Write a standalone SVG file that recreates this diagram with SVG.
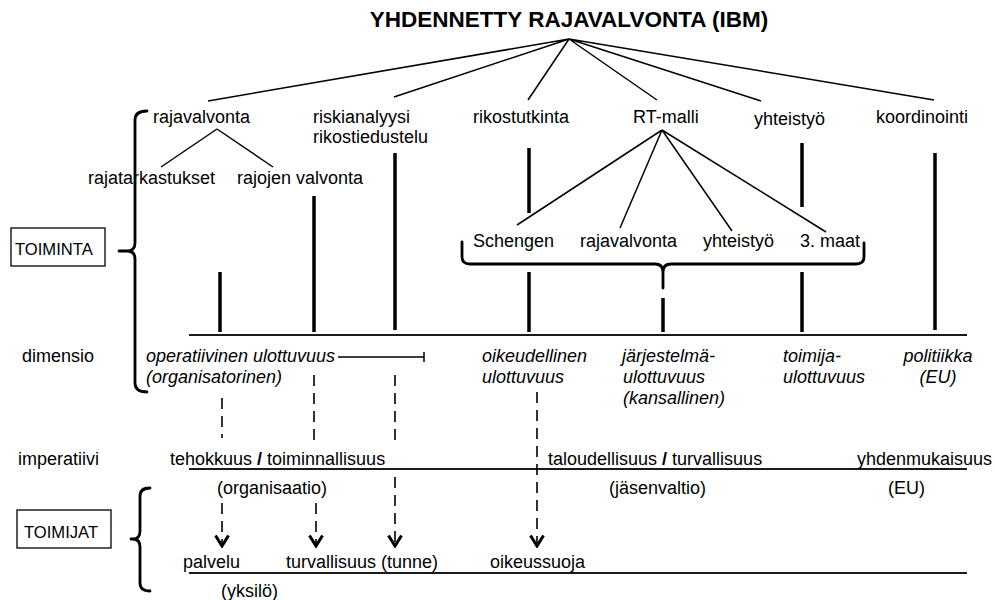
<svg xmlns="http://www.w3.org/2000/svg" width="995" height="600" viewBox="0 0 995 600">
  <style>
    text { font-family: "Liberation Sans", Arial, sans-serif; font-size: 18px; fill: #000; }
    .title { font-size: 22.5px; font-weight: bold; text-anchor: middle; }
    .it { font-style: italic; }
    .box-label { font-size: 16.6px; }
    .thin { stroke: #000; stroke-width: 1.5; fill: none; }
    .axis { stroke: #1a1a1a; stroke-width: 2; fill: none; }
    .thick { stroke: #000; stroke-width: 3.5; fill: none; }
    .brace { stroke: #000; stroke-width: 2.8; fill: none; stroke-linecap: round; stroke-linejoin: round; }
    .dash { stroke: #000; stroke-width: 1.6; fill: none; stroke-dasharray: 11 7; }
    .box { stroke: #000; stroke-width: 1.3; fill: #fff; }
  </style>
  <defs>
    <!-- open chevron arrowhead, drawn along +x so orient="auto" follows the line -->
    <marker id="chevron" viewBox="0 0 14 16" refX="12" refY="8" markerWidth="14" markerHeight="16" markerUnits="userSpaceOnUse" orient="auto">
      <path d="M1.5,1.5 L12,8 L1.5,14.5" fill="none" stroke="#000" stroke-width="3"/>
    </marker>
  </defs>

  <rect width="995" height="600" fill="#fff"/>

  <!-- root -->
  <g id="root">
    <text class="title" x="569" y="27">YHDENNETTY RAJAVALVONTA (IBM)</text>
  </g>

  <!-- connectors -->
  <g id="connectors">
    <!-- root branches -->
    <path class="thin" d="M569,39 L208,101 M569,39 L394,97 M569,39 L528,100 M569,39 L657,100 M569,39 L761,101 M569,39 L934,100"/>
    <!-- rajavalvonta split -->
    <path class="thin" d="M217,129 L161,167 M217,129 L273,167"/>
    <!-- RT-malli split -->
    <path class="thin" d="M662,130 L517,225 M662,130 L620,228 M662,130 L732,231 M662,130 L826,232"/>

    <!-- thick verticals down to the dimension axis -->
    <path class="thick" d="M220,272 V332 M314,196 V332 M395,153 V330 M529,148 V213 M529,272 V332 M663,298 V332 M802,143 V207 M802,272 V332 M935,153 V330"/>

    <!-- axes -->
    <path class="axis" d="M189,335 H967 M189,469 H967 M189,573 H967"/>

    <!-- operational dimension extent -->
    <path class="thin" d="M338,357 H424 M424,352 V362"/>

    <!-- dashed flows -->
    <path class="dash" d="M222,398 V438"/>
    <path class="dash" d="M222,503 V546" marker-end="url(#chevron)"/>
    <path class="dash" d="M314,375 V447"/>
    <path class="dash" d="M316,503 V546" marker-end="url(#chevron)"/>
    <path class="dash" d="M395,375 V447"/>
    <path class="dash" d="M395,477 V546" marker-end="url(#chevron)"/>
    <path class="dash" d="M537,392 V546" marker-end="url(#chevron)"/>

    <!-- braces -->
    <path class="brace" d="M147,111 Q135,111 135,120 L135,243 Q135,251 127,251 L119,251 M127,251 Q135,251 135,259 L135,383 Q135,392 147,392"/>
    <path class="brace" d="M150,488 Q140,488 140,496 L140,531 Q140,539 133,539 L131,539 M133,539 Q140,539 140,547 L140,583 Q140,591 150,591"/>
    <path class="brace" d="M462,242 L462,257 Q462,264 470,264 L655,264 Q663,264 663,272 L663,288 M663,272 Q663,264 671,264 L856,264 Q864,264 864,257 L864,243"/>
  </g>

  <!-- first-level activities -->
  <g id="n-rajavalvonta"><text x="153" y="123">rajavalvonta</text></g>
  <g id="n-riskianalyysi"><text x="313" y="123">riskianalyysi</text><text x="313" y="143">rikostiedustelu</text></g>
  <g id="n-rikostutkinta"><text x="473" y="123">rikostutkinta</text></g>
  <g id="n-rtmalli"><text x="633" y="123">RT-malli</text></g>
  <g id="n-yhteistyo"><text x="754" y="125">yhteistyö</text></g>
  <g id="n-koordinointi"><text x="876" y="123">koordinointi</text></g>

  <!-- second-level activities -->
  <g id="n-rajatarkastukset"><text x="88" y="184">rajatarkastukset</text></g>
  <g id="n-rajojen-valvonta"><text x="237" y="184">rajojen valvonta</text></g>
  <g id="n-schengen"><text x="473" y="247">Schengen</text></g>
  <g id="n-rt-rajavalvonta"><text x="580" y="247">rajavalvonta</text></g>
  <g id="n-rt-yhteistyo"><text x="703" y="247">yhteistyö</text></g>
  <g id="n-kolmannet-maat"><text x="800" y="247">3. maat</text></g>

  <!-- side labels -->
  <g id="n-toiminta">
    <rect class="box" x="11" y="228" width="94" height="38"/>
    <text class="box-label" x="15" y="255">TOIMINTA</text>
  </g>
  <g id="n-dimensio"><text x="22" y="362">dimensio</text></g>
  <g id="n-imperatiivi"><text x="18" y="465">imperatiivi</text></g>
  <g id="n-toimijat">
    <rect class="box" x="17" y="510" width="94" height="38"/>
    <text class="box-label" x="24" y="538">TOIMIJAT</text>
  </g>

  <!-- dimensions -->
  <g id="n-operatiivinen"><text class="it" x="146" y="362">operatiivinen ulottuvuus</text><text class="it" x="146" y="383">(organisatorinen)</text></g>
  <g id="n-oikeudellinen"><text class="it" x="482" y="362">oikeudellinen</text><text class="it" x="482" y="383">ulottuvuus</text></g>
  <g id="n-jarjestelma"><text class="it" x="622" y="362">järjestelmä-</text><text class="it" x="623" y="383">ulottuvuus</text><text class="it" x="623" y="404">(kansallinen)</text></g>
  <g id="n-toimija"><text class="it" x="783" y="362">toimija-</text><text class="it" x="783" y="383">ulottuvuus</text></g>
  <g id="n-politiikka"><text class="it" x="938" y="362" text-anchor="middle">politiikka</text><text class="it" x="938" y="383" text-anchor="middle">(EU)</text></g>

  <!-- imperatives -->
  <g id="n-tehokkuus"><text x="170" y="465">tehokkuus <tspan font-weight="bold">/</tspan> toiminnallisuus</text><text x="217" y="494">(organisaatio)</text></g>
  <g id="n-taloudellisuus"><text x="548" y="465">taloudellisuus <tspan font-weight="bold">/</tspan> turvallisuus</text><text x="609" y="494">(jäsenvaltio)</text></g>
  <g id="n-yhdenmukaisuus"><text x="857" y="465">yhdenmukaisuus</text><text x="888" y="494">(EU)</text></g>

  <!-- actors' outcomes -->
  <g id="n-palvelu"><text x="183" y="568">palvelu</text><text x="221" y="597">(yksilö)</text></g>
  <g id="n-turvallisuus"><text x="286" y="568">turvallisuus (tunne)</text></g>
  <g id="n-oikeussuoja"><text x="490" y="568">oikeussuoja</text></g>
</svg>
